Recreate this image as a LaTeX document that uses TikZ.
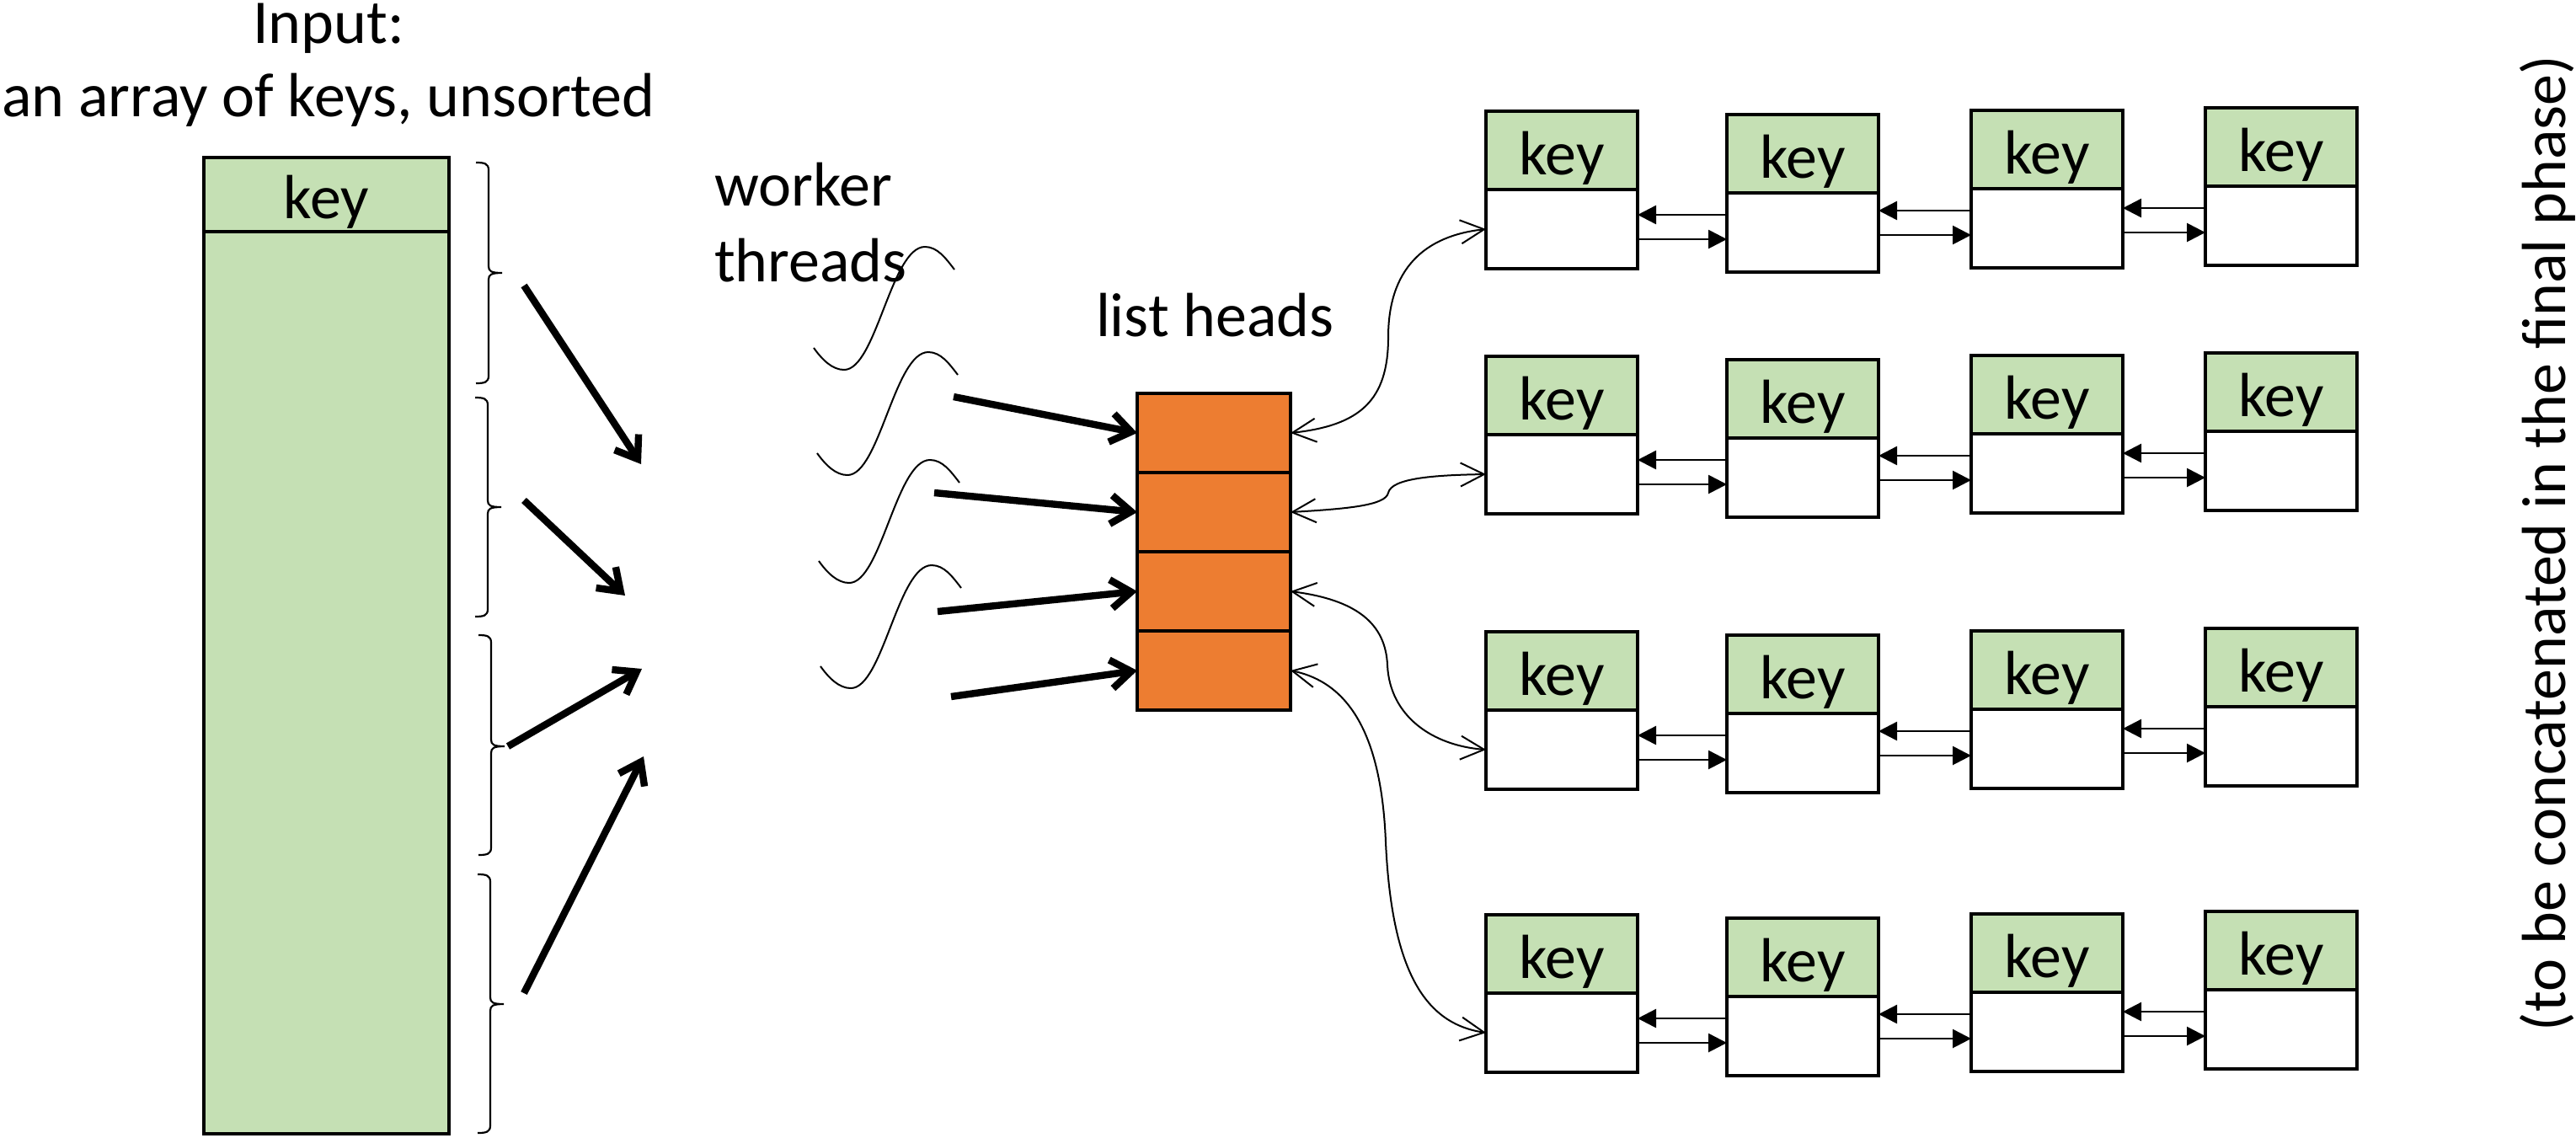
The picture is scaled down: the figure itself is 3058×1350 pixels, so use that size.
\documentclass[tikz,border=0pt]{standalone}
\usepackage{fontspec}
\setmainfont{Carlito}
\usetikzlibrary{arrows.meta,calc}
\definecolor{keygreen}{HTML}{C5E0B4}
\definecolor{headorange}{HTML}{ED7D31}
\begin{document}
\begin{tikzpicture}[x=0.25pt,y=-0.25pt,
  every node/.style={font=\fontsize{18.5}{22.25}\selectfont, inner sep=0pt, outer sep=0pt},
  cell/.style={draw=black, line width=1pt, anchor=north west},
  keytext/.style={text height=14.3pt, text depth=0pt},
  keycell/.style={cell, keytext, fill=keygreen, minimum width=45pt, minimum height=23.25pt},
  valcell/.style={cell, fill=white, minimum width=45pt, minimum height=23.5pt},
  headcell/.style={cell, fill=headorange, minimum width=45.5pt, minimum height=23.5pt},
  bigarrow/.style={line width=2.1pt, -{Straight Barb[length=6pt,width=8.5pt]}},
  headlink/.style={line width=0.5pt, {Straight Barb[length=7pt,width=7pt]}-{Straight Barb[length=7pt,width=7pt]}},
  nodelink/.style={line width=0.65pt, -{Triangle[length=5.5pt,width=5.5pt]}},
  threadline/.style={line width=0.5pt},
  bracepath/.style={line width=0.55pt}
]
\useasboundingbox (0,0) rectangle (3058,1350);

% titles
\node[anchor=base] (inp1) at (390,51) {Input:};
\node[anchor=base] (inp2) at (390,138) {an array of keys, unsorted};
\node[anchor=base west] (wt1) at (848,244) {worker};
\node[anchor=base west] (wt2) at (848,334) {threads};
\node[anchor=base west] (lhl) at (1301,399) {list heads};
\node[rotate=90, anchor=base] (note) at (3045,645) {(to be concatenated in the final phase)};

% input array
\node[cell, keytext, fill=keygreen, minimum width=72.75pt, minimum height=22pt] (arrkey) at (242,187) {key};
\node[cell, fill=keygreen, minimum width=72.75pt, minimum height=267.75pt] (arrbody) at (242,275) {};

% braces
\foreach \t/\m/\b/\x in {193/324/455/580, 472/602/732/579, 754/886/1015/583, 1038/1192/1345/582}{
  \draw[bracepath] (\x-15,\t) .. controls (\x-5,\t) and (\x,\t+1) .. (\x,\t+9)
    -- (\x,\m-8) .. controls (\x,\m-2) and (\x+3,\m) .. (\x+16,\m)
    .. controls (\x+3,\m) and (\x,\m+2) .. (\x,\m+8)
    -- (\x,\b-9) .. controls (\x,\b-1) and (\x-5,\b) .. (\x-15,\b);
}

% arrows from array parts to threads
\coordinate (s1) at (622,339);  \coordinate (e1) at (761,551);
\coordinate (s2) at (622,594);  \coordinate (e2) at (742,707);
\coordinate (s3) at (603,886);  \coordinate (e3) at (762,794);
\coordinate (s4) at (622,1179); \coordinate (e4) at (764,898);
\foreach \i in {1,2,3,4}{ \draw[bigarrow] (s\i) -- (e\i); }

% worker threads
\foreach \sx/\sy in {966/413, 970/538, 972/666, 974/791}{
  \begin{scope}[shift={(\sx,\sy)}]
    \draw[threadline] (0,0) .. controls (10,14) and (22,26) .. (36,26)
      .. controls (74,26) and (92,-120) .. (132,-120)
      .. controls (147,-120) and (157,-106) .. (167,-93);
  \end{scope}
}

% list heads
\node[headcell] (lh1) at (1350,467) {};
\node[headcell] (lh2) at (1350,561) {};
\node[headcell] (lh3) at (1350,655) {};
\node[headcell] (lh4) at (1350,749) {};

\coordinate (t1) at (1132,471);
\coordinate (t2) at (1109,585);
\coordinate (t3) at (1113,726);
\coordinate (t4) at (1129,827);
\foreach \i in {1,2,3,4}{ \draw[bigarrow] (t\i) -- (lh\i.west); }

% lists
\foreach \r/\top in {1/132,2/423,3/750,4/1086}{
  \foreach \c/\x/\off in {1/1764/0,2/2050/4,3/2340/-1,4/2618/-4}{
    \node[keycell] (k-\r-\c) at (\x,\top+\off) {key};
    \node[valcell] (v-\r-\c) at (\x,\top+\off+93) {};
  }
  \foreach \c/\n in {1/2,2/3,3/4}{
    \coordinate (bk) at ($(v-\r-\n.north west)+(0,26)$);
    \draw[nodelink] (bk) -- (bk -| v-\r-\c.east);
    \coordinate (fw) at ($(v-\r-\n.north west)+(0,55)$);
    \draw[nodelink] (fw -| v-\r-\c.east) -- (fw);
  }
}

% links from list heads to first list elements
\draw[headlink] (lh1.east) .. controls (1615,505) and (1648,475) .. (1648,400)
  .. controls (1648,320) and (1690,280) .. (v-1-1.west);
\draw[headlink] (lh2.east) .. controls (1600,604) and (1645,600) .. (1648,585)
  .. controls (1652,568) and (1700,564) .. (v-2-1.west);
\draw[headlink] (lh3.east) .. controls (1610,712) and (1645,740) .. (1647,790)
  .. controls (1650,850) and (1700,885) .. (v-3-1.west);
\draw[headlink] (lh4.east) .. controls (1600,810) and (1640,870) .. (1645,1000)
  .. controls (1652,1150) and (1690,1215) .. (v-4-1.west);
\end{tikzpicture}
\end{document}
